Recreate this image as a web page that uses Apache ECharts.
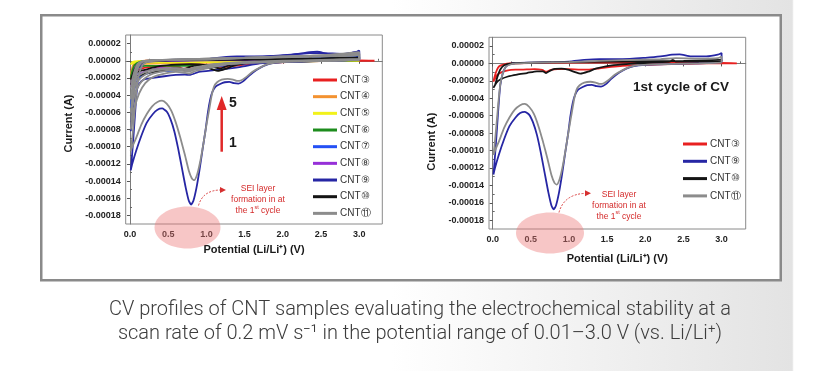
<!DOCTYPE html>
<html><head><meta charset="utf-8">
<script src="https://cdn.jsdelivr.net/npm/echarts@6/dist/echarts.min.js"></script>
<style>
html,body{margin:0;padding:0;width:815px;height:371px;overflow:hidden;
background:linear-gradient(to right,#ffffff 0%,#ffffff 48%,#e3e3e3 97.2%,#ffffff 97.4%,#ffffff 100%);}
#chart{width:815px;height:371px;}
</style></head><body><div id="chart"></div>
<script>
// ---------- tick values ----------
const xTickValues = [0, 0.5, 1, 1.5, 2, 2.5, 3];
const xMinorTickValues = [0.25, 0.75, 1.25, 1.75, 2.25, 2.75, 3.25];
const yTickValues = [-0.00018, -0.00016, -0.00014, -0.00012, -0.0001, -0.00008, -0.00006, -0.00004, -0.00002, 0, 0.00002];
const yMinorTickValues = [-0.00017, -0.00015, -0.00013, -0.00011, -0.00009, -0.00007, -0.00005, -0.00003, -0.00001, 0.00001];

// ---------- sample names ----------
const leftSamples = ['CNT③', 'CNT④', 'CNT⑤', 'CNT⑥', 'CNT⑦', 'CNT⑧', 'CNT⑨', 'CNT⑩', 'CNT⑪'];
const rightSamples = ['CNT③', 'CNT⑨', 'CNT⑩', 'CNT⑪'];

// ---------- data: [potential (V), current (A)] ----------
const cnt3Cycle1 = [[3.20,0.0],[3.00,0.0],[2.80,0.0],[2.50,-0.0000005],[2.20,-0.000001],[1.90,-0.000002],[1.70,-0.0000028],[1.55,-0.000004],[1.40,-0.0000055],[1.25,-0.000007],[1.15,-0.000007],[1.00,-0.0000065],[0.85,-0.0000065],[0.76,-0.0000075],[0.70,-0.0000095],[0.65,-0.0000075],[0.55,-0.0000065],[0.40,-0.000007],[0.30,-0.0000072],[0.20,-0.000008],[0.12,-0.00001],[0.06,-0.000013],[0.02,-0.000019],[0.01,-0.000021],
  [0.02,-0.000017],[0.04,-0.000011],[0.07,-0.000005],[0.10,-0.0000025],[0.15,-0.000001],[0.22,0.0],[0.50,0.0000005],[1.00,0.000001],[1.50,0.000001],[2.00,0.000001],[2.50,0.0000005],[3.00,0.0000005],[3.20,0.0]];
const cnt4Cycle1 = [[3.00,0.0],[2.50,-0.0000005],[2.00,-0.000001],[1.50,-0.0000018],[1.00,-0.0000025],[0.50,-0.000003],[0.15,-0.000004],[0.05,-0.000008],[0.02,-0.000012],[0.01,-0.000016],
  [0.02,-0.000011],[0.04,-0.000005],[0.08,-0.0000015],[0.20,0.0],[1.00,0.0000005],[2.00,0.0000008],[3.00,0.000001],[3.00,0.0]];
const cnt5Cycle1 = [[3.00,0.0],[2.00,-0.0000005],[1.85,-0.000001],[1.50,-0.0000012],[1.00,-0.0000015],[0.50,-0.000002],[0.20,-0.000002],[0.05,-0.0000025],[0.01,-0.000004],
  [0.03,-0.0000015],[0.10,-0.0000003],[0.50,0.0000002],[1.50,0.0000003],[3.00,0.0000003],[3.00,0.0]];
const cnt6Cycle1 = [[3.00,0.0000005],[2.00,-0.0000015],[1.20,-0.000004],[0.70,-0.000006],[0.20,-0.000006],[0.05,-0.00001],[0.01,-0.00002],
  [0.03,-0.000012],[0.06,-0.000005],[0.12,-0.0000015],[0.30,0.0],[1.00,0.0000008],[2.00,0.0000012],[3.00,0.0000015],[3.00,0.0000005]];
const cnt7Cycle1 = [[3.00,0.000001],[2.50,0.0],[2.00,-0.000001],[1.60,-0.0000025],[1.20,-0.000006],[0.90,-0.000009],[0.70,-0.000011],[0.50,-0.000012],[0.30,-0.000013],[0.15,-0.000018],[0.08,-0.000026],[0.04,-0.000038],[0.01,-0.000055],
  [0.02,-0.000045],[0.04,-0.000028],[0.07,-0.000012],[0.10,-0.000004],[0.20,-0.000001],[0.40,0.0],[1.00,0.000001],[2.00,0.000003],[3.00,0.000005],[3.00,0.000001]];
const cnt8Cycle1 = [[3.00,0.000001],[2.00,-0.000001],[1.50,-0.000003],[1.10,-0.000006],[0.90,-0.0000085],[0.75,-0.0000105],[0.60,-0.000009],[0.40,-0.0000085],[0.25,-0.000011],[0.12,-0.000016],[0.05,-0.000022],[0.01,-0.00003],
  [0.03,-0.000022],[0.06,-0.00001],[0.10,-0.000004],[0.20,-0.000001],[0.50,0.0],[1.00,0.0000005],[2.00,0.000001],[3.00,0.000002],[3.00,0.000001]];
const cnt9Cycle1 = [[3.00,0.0000015],[2.80,0.0000005],[2.60,0.0],[2.40,-0.0000005],[2.20,-0.000001],[2.00,-0.0000015],[1.85,-0.000003],[1.75,-0.000006],[1.65,-0.000011],[1.55,-0.000018],[1.48,-0.000024],[1.42,-0.0000265],[1.36,-0.000026],[1.30,-0.0000245],[1.24,-0.000025],[1.18,-0.000027],[1.12,-0.00003],[1.08,-0.000036],[1.05,-0.000045],[1.02,-0.00006],[0.99,-0.00008],[0.95,-0.000103],[0.91,-0.000127],[0.87,-0.000148],[0.83,-0.000163],[0.80,-0.0001675],[0.77,-0.000163],[0.73,-0.000148],[0.68,-0.000125],[0.63,-0.000102],[0.58,-0.000082],[0.53,-0.000068],[0.48,-0.000059],[0.42,-0.0000555],[0.36,-0.000057],[0.30,-0.000062],[0.22,-0.000072],[0.15,-0.000087],[0.08,-0.000105],[0.03,-0.00012],[0.01,-0.0001275],
  [0.02,-0.000118],[0.04,-0.000095],[0.06,-0.00007],[0.08,-0.000045],[0.10,-0.000025],[0.13,-0.000012],[0.17,-0.000004],[0.22,-0.000001],[0.30,0.0000005],[0.50,0.000001],[0.80,0.0000015],[1.00,0.000002],[1.20,0.000004],[1.40,0.000005],[1.70,0.000005],[2.00,0.0000065],[2.20,0.000008],[2.35,0.00001],[2.45,0.0000105],[2.60,0.000008],[2.80,0.000008],[2.95,0.00001],[3.00,0.000012],[3.00,0.0000015]];
const cnt9Cycle2 = [[3.00,0.000002],[2.50,0.0],[2.00,-0.0000015],[1.70,-0.000003],[1.45,-0.000007],[1.25,-0.0000095],[1.10,-0.000011],[0.90,-0.000013],[0.78,-0.0000165],[0.72,-0.000016],[0.60,-0.0000165],[0.45,-0.000018],[0.30,-0.00002],[0.18,-0.000022],[0.12,-0.000027],[0.07,-0.00004],[0.03,-0.00006],[0.01,-0.000082],
  [0.02,-0.000075],[0.04,-0.00005],[0.07,-0.000025],[0.10,-0.00001],[0.15,-0.000003],[0.25,0.0],[0.60,0.000001],[1.00,0.000002],[1.50,0.000004],[2.00,0.000006],[2.35,0.000009],[2.50,0.000009],[2.80,0.000008],[3.00,0.000011],[3.00,0.000002]];
const cnt10Cycle1 = [[3.00,0.000003],[2.70,0.000002],[2.40,0.000002],[2.36,0.000004],[2.32,0.000002],[2.10,0.000001],[1.90,0.0],[1.70,-0.000001],[1.50,-0.000003],[1.35,-0.000006],[1.25,-0.0000095],[1.15,-0.0000118],[1.08,-0.00001],[1.00,-0.0000075],[0.90,-0.000006],[0.80,-0.0000065],[0.74,-0.000009],[0.70,-0.000011],[0.66,-0.000009],[0.58,-0.000009],[0.45,-0.000011],[0.32,-0.0000128],[0.20,-0.000015],[0.10,-0.0000185],[0.05,-0.000022],[0.01,-0.000028],
  [0.03,-0.000025],[0.06,-0.000016],[0.10,-0.000007],[0.15,-0.000002],[0.25,0.0],[0.50,0.0000008],[1.00,0.0000015],[1.50,0.000002],[2.00,0.0000025],[2.50,0.000003],[3.00,0.000004],[3.00,0.000003]];
const cnt10Cycle2 = [[3.00,0.000002],[2.60,0.0000015],[2.20,0.000001],[1.80,-0.0000005],[1.50,-0.000002],[1.30,-0.000005],[1.18,-0.000009],[1.10,-0.0000075],[1.00,-0.000005],[0.80,-0.000004],[0.60,-0.0000045],[0.40,-0.000006],[0.26,-0.000009],[0.15,-0.0000115],[0.08,-0.000014],[0.03,-0.000018],[0.01,-0.000022],
  [0.03,-0.000017],[0.06,-0.00001],[0.10,-0.000004],[0.18,-0.000001],[0.30,0.0],[0.80,0.0000008],[1.50,0.0000012],[2.00,0.0000015],[2.50,0.000002],[3.00,0.000003],[3.00,0.000002]];
const cnt11Cycle1 = [[3.00,0.000001],[2.70,0.0],[2.40,-0.0000005],[2.10,-0.000001],[1.90,-0.000002],[1.80,-0.000004],[1.70,-0.000008],[1.60,-0.000013],[1.52,-0.000019],[1.45,-0.000023],[1.40,-0.0000235],[1.35,-0.000022],[1.28,-0.000021],[1.20,-0.000022],[1.14,-0.000025],[1.10,-0.00003],[1.07,-0.00004],[1.04,-0.000055],[1.00,-0.000075],[0.96,-0.000097],[0.92,-0.000117],[0.88,-0.000132],[0.84,-0.000139],[0.81,-0.000137],[0.77,-0.000128],[0.72,-0.00011],[0.66,-0.00009],[0.60,-0.000072],[0.54,-0.000058],[0.48,-0.00005],[0.42,-0.0000465],[0.36,-0.000048],[0.29,-0.000053],[0.22,-0.000062],[0.15,-0.000074],[0.08,-0.00009],[0.03,-0.0001],[0.01,-0.000105],
  [0.02,-0.000098],[0.04,-0.00008],[0.06,-0.00006],[0.08,-0.00004],[0.10,-0.000024],[0.13,-0.000012],[0.17,-0.000004],[0.22,-0.0000015],[0.30,0.0],[0.60,0.000001],[1.00,0.0000015],[1.40,0.000003],[1.80,0.000004],[2.20,0.000005],[2.40,0.000006],[2.70,0.0000055],[2.95,0.000006],[3.00,0.000008],[3.00,0.000001]];
const cnt11Cycle2 = [[3.00,0.000001],[2.50,0.0],[2.00,-0.000001],[1.60,-0.000002],[1.30,-0.000004],[1.10,-0.000007],[0.95,-0.00001],[0.85,-0.000012],[0.78,-0.000015],[0.72,-0.000014],[0.60,-0.000013],[0.45,-0.000015],[0.30,-0.000019],[0.20,-0.000026],[0.12,-0.000038],[0.06,-0.000055],[0.02,-0.000075],[0.01,-0.00008],
  [0.02,-0.00007],[0.04,-0.00005],[0.07,-0.000025],[0.10,-0.00001],[0.15,-0.000002],[0.25,0.0],[0.60,0.000001],[1.00,0.0000015],[1.50,0.000003],[2.00,0.000004],[2.50,0.000005],[3.00,0.000007],[3.00,0.000001]];
const cnt11Cycle3 = [[3.00,0.0000015],[2.50,0.0],[2.00,-0.000001],[1.60,-0.000002],[1.30,-0.0000035],[1.10,-0.000006],[0.95,-0.0000085],[0.85,-0.00001],[0.78,-0.0000125],[0.72,-0.000012],[0.60,-0.000011],[0.45,-0.000012],[0.30,-0.000015],[0.20,-0.00002],[0.12,-0.000028],[0.06,-0.00004],[0.02,-0.000055],[0.01,-0.00006],
  [0.02,-0.000052],[0.04,-0.000036],[0.07,-0.000018],[0.10,-0.000007],[0.15,-0.0000015],[0.25,0.0],[0.60,0.0000012],[1.00,0.000002],[1.50,0.000003],[2.00,0.0000045],[2.50,0.0000055],[3.00,0.000008],[3.00,0.0000015]];
const cnt11Cycle4 = [[3.00,0.000002],[2.50,0.0000005],[2.00,-0.0000005],[1.60,-0.0000015],[1.30,-0.000003],[1.10,-0.0000045],[0.95,-0.000007],[0.85,-0.0000085],[0.78,-0.000011],[0.72,-0.0000105],[0.60,-0.0000095],[0.45,-0.00001],[0.30,-0.000012],[0.20,-0.000016],[0.12,-0.000022],[0.06,-0.00003],[0.02,-0.00004],[0.01,-0.000045],
  [0.02,-0.000038],[0.04,-0.000026],[0.07,-0.000013],[0.10,-0.000005],[0.15,-0.000001],[0.25,0.0000005],[0.60,0.0000015],[1.00,0.0000025],[1.50,0.0000035],[2.00,0.000005],[2.50,0.000006],[3.00,0.000009],[3.00,0.000002]];
const cnt11Cycle5 = [[3.00,0.000002],[2.50,0.000001],[2.00,0.0],[1.60,-0.000001],[1.30,-0.0000025],[1.10,-0.000004],[0.95,-0.000006],[0.85,-0.0000075],[0.78,-0.0000095],[0.72,-0.000009],[0.60,-0.0000085],[0.45,-0.000009],[0.30,-0.00001],[0.20,-0.000013],[0.12,-0.000017],[0.06,-0.000022],[0.02,-0.000028],[0.01,-0.000032],
  [0.02,-0.000027],[0.04,-0.000018],[0.07,-0.000009],[0.10,-0.0000035],[0.15,-0.000001],[0.25,0.0000005],[0.60,0.0000015],[1.00,0.0000025],[1.50,0.0000035],[2.00,0.000005],[2.50,0.0000065],[3.00,0.00001],[3.00,0.000002]];

// ---------- styling ----------
const sampleColors = {'CNT③':'#e82020','CNT④':'#f39230','CNT⑤':'#f2f21a','CNT⑥':'#1d8c1d','CNT⑦':'#2450f5','CNT⑧':'#9630d8','CNT⑨':'#2626a4','CNT⑩':'#141414','CNT⑪':'#8c8c8c'};
const leftCycles = {'CNT③':[cnt3Cycle1],'CNT④':[cnt4Cycle1],'CNT⑤':[cnt5Cycle1],'CNT⑥':[cnt6Cycle1],'CNT⑦':[cnt7Cycle1],'CNT⑧':[cnt8Cycle1],'CNT⑨':[cnt9Cycle1,cnt9Cycle2],'CNT⑩':[cnt10Cycle1,cnt10Cycle2],'CNT⑪':[cnt11Cycle1,cnt11Cycle2,cnt11Cycle3,cnt11Cycle4,cnt11Cycle5]};
const rightCycles = {'CNT③':[cnt3Cycle1],'CNT⑨':[cnt9Cycle1],'CNT⑩':[cnt10Cycle1],'CNT⑪':[cnt11Cycle1]};

const FONT = '"Liberation Sans", Arial, sans-serif';
const series = [];
function addSeries(names, cycles, g) {
  names.forEach(function (name) {
    cycles[name].forEach(function (d) {
      series.push({
        type: 'line', name: name, data: d, xAxisIndex: g * 2, yAxisIndex: g * 2,
        showSymbol: false, symbol: 'none', smooth: 0.2, animation: false,
        lineStyle: { color: sampleColors[name], width: 1.8 },
        itemStyle: { color: sampleColors[name] }
      });
    });
  });
}
addSeries(leftSamples, leftCycles, 0);
addSeries(rightSamples, rightCycles, 1);

function mainX(g, min, max, gap) {
  return {
    type: 'value', gridIndex: g, min: min, max: max,
    axisLine: { show: true, lineStyle: { color: '#7a7a7a', width: 1 } },
    axisTick: { show: true, length: 3, customValues: xTickValues, lineStyle: { color: '#555' } },
    axisLabel: { customValues: xTickValues, formatter: function (v) { return v.toFixed(1); }, fontSize: 9, fontWeight: 'bold', color: '#222', fontFamily: FONT, margin: 6 },
    splitLine: { show: false },
    name: 'Potential (Li/Li⁺) (V)', nameLocation: 'middle', nameGap: gap,
    nameTextStyle: { fontSize: 11, fontWeight: 'bold', color: '#1a1a1a', fontFamily: FONT }
  };
}
function minorX(g, min, max) {
  return {
    type: 'value', gridIndex: g, min: min, max: max,
    axisLine: { show: false }, axisLabel: { show: false }, splitLine: { show: false },
    axisTick: { show: true, length: 2, customValues: xMinorTickValues, lineStyle: { color: '#666' } }
  };
}
function mainY(g, gap, pad) {
  return {
    type: 'value', gridIndex: g, min: -0.00019, max: 0.00003,
    axisLine: { show: true, lineStyle: { color: '#7a7a7a', width: 1 } },
    axisTick: { show: true, length: 3, customValues: yTickValues, lineStyle: { color: '#555' } },
    axisLabel: { customValues: yTickValues, formatter: function (v) { return (Math.abs(v) < 1e-12 ? 0 : v).toFixed(5); }, fontSize: 9, fontWeight: 'bold', color: '#222', fontFamily: FONT, margin: 5 },
    splitLine: { show: false },
    name: 'Current (A)', nameLocation: 'middle', nameGap: gap,
    nameTextStyle: { fontSize: 11, fontWeight: 'bold', color: '#1a1a1a', fontFamily: FONT, padding: pad }
  };
}
function minorY(g) {
  return {
    type: 'value', gridIndex: g, min: -0.00019, max: 0.00003,
    axisLine: { show: false }, axisLabel: { show: false }, splitLine: { show: false },
    axisTick: { show: true, length: 2, customValues: yMinorTickValues, lineStyle: { color: '#666' } }
  };
}
function legendCfg(names, left, top, gap) {
  return {
    data: names, orient: 'vertical', left: left, top: top, itemWidth: 24, itemHeight: 3, itemGap: gap,
    icon: 'rect', selectedMode: false,
    textStyle: { fontSize: 10, lineHeight: 12, color: '#333', fontFamily: FONT, padding: [0, 0, 0, -2] }
  };
}
const red = '#e02828';
const sei = 'rgba(236,120,120,0.42)';
function seiText(x, y) {
  return {
    type: 'text', z: 101, style: {
      x: x, y: y, align: 'center', verticalAlign: 'middle',
      text: '{n|SEI layer}\n{n|formation in at}\n{n|the 1}{s|st}{n| cycle}',
      rich: { n: { fontSize: 8.5, lineHeight: 11, fill: '#d42a2a', fontFamily: FONT, verticalAlign: 'bottom' },
              s: { fontSize: 5.5, lineHeight: 11, fill: '#d42a2a', fontFamily: FONT, verticalAlign: 'top' } }
    }
  };
}
function curvedArrow(x1, y1, cx, cy, x2, y2) {
  return [
    { type: 'bezierCurve', z: 101, shape: { x1: x1, y1: y1, cpx1: cx, cpy1: cy, x2: x2, y2: y2 }, style: { stroke: '#d63030', lineWidth: 0.9, fill: null, lineDash: [2, 1.5] } },
    { type: 'polygon', z: 101, shape: { points: [[x2 + 5, y2], [x2 - 1, y2 - 3], [x2 - 1, y2 + 3]] }, style: { fill: '#d63030' } }
  ];
}

const graphics = [
  { type: 'rect', z: -100, shape: { x: 41.25, y: 15.25, width: 739.5, height: 265 }, style: { fill: '#ffffff', stroke: '#8a8a8a', lineWidth: 2.5 } },
  { type: 'ellipse', z: 100, shape: { cx: 187.5, cy: 227.5, rx: 33, ry: 21 }, style: { fill: sei } },
  { type: 'ellipse', z: 100, shape: { cx: 550, cy: 233, rx: 34, ry: 20.5 }, style: { fill: sei } },
  seiText(258, 199),
  seiText(619, 204.2),
  // cycle arrow
  { type: 'line', z: 101, shape: { x1: 221.7, y1: 151.7, x2: 221.7, y2: 108 }, style: { stroke: red, lineWidth: 2.5 } },
  { type: 'polygon', z: 101, shape: { points: [[221.7, 96], [216.7, 110], [226.7, 110]] }, style: { fill: red } },
  { type: 'text', z: 101, style: { x: 233, y: 103.5, text: '5', align: 'center', verticalAlign: 'middle', font: 'bold 14px ' + FONT, fill: '#1a1a1a' } },
  { type: 'text', z: 101, style: { x: 233, y: 143.5, text: '1', align: 'center', verticalAlign: 'middle', font: 'bold 14px ' + FONT, fill: '#1a1a1a' } },
  { type: 'text', z: 101, style: { x: 681, y: 87, text: '1st cycle of CV', align: 'center', verticalAlign: 'middle', font: 'bold 13.5px ' + FONT, fill: '#1a1a1a' } },
  { type: 'text', z: 101, style: { x: 420, y: 322, text: 'CV profiles of CNT samples evaluating the electrochemical stability at a\nscan rate of 0.2 mV s⁻¹ in the potential range of 0.01–3.0 V (vs. Li/Li⁺)', align: 'center', verticalAlign: 'middle', font: '300 20px Roboto, "Noto Sans", sans-serif', lineHeight: 24.5, fill: '#3c3c3c' } }
].concat(curvedArrow(198.5, 205.5, 203, 190, 221, 190)).concat(curvedArrow(559, 212.5, 564, 194, 586, 193.3));

const chart = echarts.init(document.getElementById('chart'), null, { renderer: 'canvas' });
chart.setOption({
  animation: false,
  backgroundColor: 'transparent',
  grid: [
    { left: 125.7, top: 35, width: 256.6, height: 189, show: true, borderColor: '#8a8a8a', borderWidth: 1, backgroundColor: 'transparent' },
    { left: 489, top: 37.3, width: 256.7, height: 191.7, show: true, borderColor: '#8a8a8a', borderWidth: 1, backgroundColor: 'transparent' }
  ],
  xAxis: [mainX(0, -0.056, 3.302, 20.5), minorX(0, -0.056, 3.302), mainX(1, -0.048, 3.316, 24.8), minorX(1, -0.048, 3.316)],
  yAxis: [mainY(0, 51, [0, 0, 0, 12]), minorY(0), mainY(1, 51.8, [0, 17, 0, 0]), minorY(1)],
  legend: [legendCfg(leftSamples, 308, 69, 4.67), legendCfg(rightSamples, 678, 133, 5.3)],
  series: series,
  graphic: graphics
});
</script></body></html>
